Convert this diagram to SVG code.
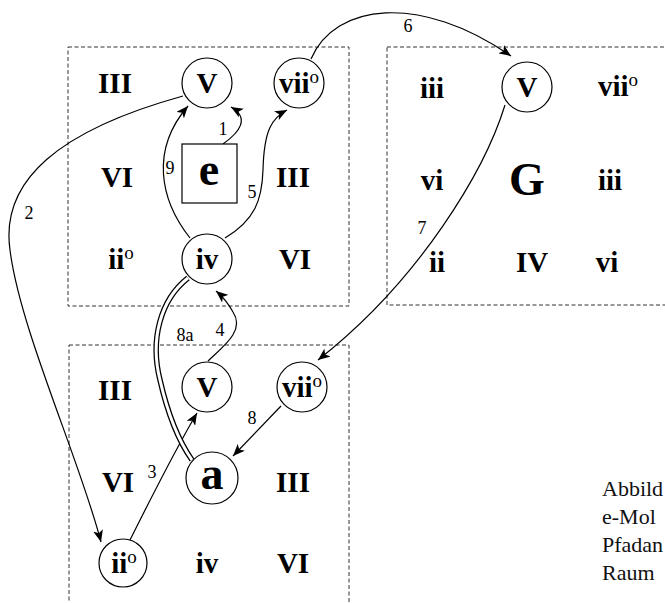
<svg xmlns="http://www.w3.org/2000/svg" width="665" height="603" viewBox="0 0 665 603">
<defs>
<marker id="ah" markerUnits="userSpaceOnUse" markerWidth="13" markerHeight="10" refX="12" refY="5" orient="auto">
<path d="M0,0 L12,5 L0,10 L3,5 Z" fill="#000"/>
</marker>
<style>
.box{fill:none;stroke:#333;stroke-width:1;stroke-dasharray:4,2.5}
.n{fill:#fff;stroke:#000;stroke-width:1.2}
.t{font-family:"Liberation Serif","Times New Roman",serif;font-weight:bold;font-size:29px;text-anchor:middle;fill:#000}
.sup{font-weight:normal;font-size:19px}
.big{font-size:46px}
.lab{font-family:"Liberation Serif","Times New Roman",serif;font-size:18px;text-anchor:middle;fill:#000}
.e{fill:none;stroke:#000;stroke-width:1.2}
.ea{fill:none;stroke:#000;stroke-width:1.2;marker-end:url(#ah)}
.cap{font-family:"Liberation Serif","Times New Roman",serif;font-size:22px;fill:#111}
</style>
</defs>
<rect width="665" height="603" fill="#fff"/>

<g id="boxes">
<rect class="box" x="68" y="47" width="281" height="259"/>
<rect class="box" x="387" y="47" width="300" height="258"/>
<rect class="box" x="69" y="345" width="280" height="280"/>
</g>

<g id="connectors">
<path class="ea" d="M311 59 C335 3,420 -7,511 56"/>
<path class="ea" d="M505 105 C485 170,420 280,318 360"/>
<path class="ea" d="M183 96 C60 130,0 180,10 250 C20 330,80 460,101 542"/>
<path class="ea" d="M190 238 C160 200,150 150,188 106"/>
<path class="ea" d="M223 144 C240 132,250 118,231 107"/>
<path class="ea" d="M225 238 C255 220,262 200,263 170 C264 130,272 118,287 110"/>
<path class="ea" d="M208 361 C225 345,245 330,233 312 C228 303,222 296,216 291"/>
<path class="ea" d="M130 540 C150 500,175 450,197 413"/>
<path class="ea" d="M281 406 L233 456"/>
<g id="e8a">
<path d="M188 278 C160 300,150 340,160 380 C168 415,178 440,192 460" fill="none" stroke="#000" stroke-width="5.5"/>
<path d="M188 278 C160 300,150 340,160 380 C168 415,178 440,192 460" fill="none" stroke="#fff" stroke-width="3"/>
</g>
<text class="lab" x="223" y="135">1</text>
<text class="lab" x="170" y="174">9</text>
<text class="lab" x="252" y="198">5</text>
<text class="lab" x="29" y="219">2</text>
<text class="lab" x="408" y="32">6</text>
<text class="lab" x="422" y="234">7</text>
<text class="lab" x="185" y="341">8a</text>
<text class="lab" x="220" y="336">4</text>
<text class="lab" x="252" y="424">8</text>
<text class="lab" x="152" y="478">3</text>
</g>

<g id="e-minor">
<text class="t" x="115" y="93">III</text>
<g id="e-V"><circle class="n" cx="207" cy="83" r="25"/><text class="t" x="207" y="93">V</text></g>
<g id="e-vii"><circle class="n" cx="299" cy="83" r="25"/><text class="t" x="299" y="93">vii<tspan class="sup" dy="-10">o</tspan></text></g>
<text class="t" x="117" y="187">VI</text>
<g id="e-tonic"><rect class="n" x="182" y="144" width="55" height="59"/><text class="t big" x="209" y="185">e</text></g>
<text class="t" x="293" y="187">III</text>
<text class="t" x="121" y="269">ii<tspan class="sup" dy="-10">o</tspan></text>
<g id="e-iv"><circle class="n" cx="207" cy="259" r="25"/><text class="t" x="207" y="269">iv</text></g>
<text class="t" x="295" y="269">VI</text>
</g>

<g id="G-major">
<text class="t" x="432" y="98">iii</text>
<g id="G-V"><circle class="n" cx="527" cy="87" r="25"/><text class="t" x="527" y="97">V</text></g>
<text class="t" x="618" y="96">vii<tspan class="sup" dy="-10">o</tspan></text>
<text class="t" x="432" y="190">vi</text>
<text class="t big" x="527" y="195">G</text>
<text class="t" x="610" y="190">iii</text>
<text class="t" x="437" y="272">ii</text>
<text class="t" x="532" y="272">IV</text>
<text class="t" x="607" y="272">vi</text>
</g>

<g id="a-minor">
<text class="t" x="115" y="400">III</text>
<g id="a-V"><circle class="n" cx="207" cy="387" r="25"/><text class="t" x="207" y="397">V</text></g>
<g id="a-vii"><circle class="n" cx="302" cy="387" r="25"/><text class="t" x="302" y="397">vii<tspan class="sup" dy="-10">o</tspan></text></g>
<text class="t" x="118" y="492">VI</text>
<g id="a-tonic"><circle class="n" cx="212" cy="478" r="26"/><text class="t big" x="212" y="489">a</text></g>
<text class="t" x="293" y="492">III</text>
<g id="a-ii"><circle class="n" cx="123" cy="563" r="24"/><text class="t" x="124" y="573">ii<tspan class="sup" dy="-10">o</tspan></text></g>
<text class="t" x="207" y="573">iv</text>
<text class="t" x="293" y="573">VI</text>
</g>

<g id="caption">
<text class="cap" x="602" y="496">Abbild</text>
<text class="cap" x="602" y="524">e-Mol</text>
<text class="cap" x="602" y="552">Pfadan</text>
<text class="cap" x="602" y="580">Raum</text>
</g>
</svg>
